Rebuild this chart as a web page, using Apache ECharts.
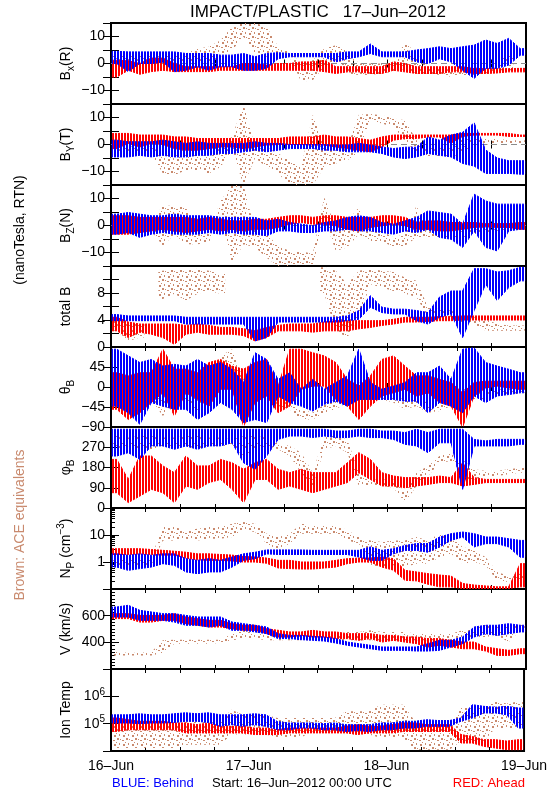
<!DOCTYPE html>
<html><head><meta charset="utf-8">
<script src="https://cdn.jsdelivr.net/npm/echarts@6/dist/echarts.min.js"></script>
<style>html,body{margin:0;padding:0;background:#fff}#c{width:550px;height:800px}</style>
</head><body><div id="c"></div>
<script>
// ---------- time bins (hours since 16-Jun-2012 00:00 UTC, 2-hour bins) ----------
const binHours = [0,2,4,6,8,10,12,14,16,18,20,22,24,26,28,30,32,34,36,38,40,42,44,46,48,50,52,54,56,58,60,62,64,66,68,70];
const dayTickHours = [0,24,48,72];
const dayTickLabels = ['16–Jun','17–Jun','18–Jun','19–Jun'];

// ---------- Bx (R), nT : per-bin low / high ----------
const bxBlueHi = [4.5,4.3,4.3,4.3,4.3,4.3,3.7,3.7,3.7,3.1,3.1,3.7,2.5,3.7,4.0,3.7,3.7,3.7,3.7,3.7,4.3,4.3,7.2,4.3,4.3,4.3,5.0,5.5,6.2,5.5,6.2,6.8,8.7,7.4,9.3,5.5];
const bxBlueLo = [0,-3,0,0,0.5,-3,-2.5,-1.2,-2.5,-1.2,-1.2,-2.5,-2.5,-1.8,1.8,2.5,2.5,2.5,2.5,0.6,1.8,2.5,3.7,2.5,2.5,2.5,0.6,0,1.8,0.6,-2.5,-5.5,-1.8,-1.8,-0.6,3.1];
const bxRedHi = [1.2,1,0,2,2,0,-1.2,-1.2,-1.2,-1.2,-1.2,0,0,-0.6,0,0,0.6,0.6,1.2,-1.2,-1.2,-1.2,-1.2,-1.2,0.6,0,-1.2,-1.2,-1.2,-1.2,-1.2,-1.9,-1.9,-1.9,-1.9,-1.8];
const bxRedLo = [-5,-2.5,-4,-3,-2.5,-3,-3,-3,-3,-2.5,-2.5,-2.5,-2.5,-2.5,-2.5,-2.5,-2.5,-2.5,-3,-3.7,-3.1,-3.1,-3.7,-3.7,-2.5,-3.1,-3.7,-3.7,-3.7,-3.1,-3.1,-3.7,-3.7,-3.5,-3.1,-3.1];
const bxBrownHi = [4,3.7,3.1,3.1,3.1,3.7,3.7,5.5,6.2,8.6,13.6,15,15,13.6,6.2,4.3,0,1.2,5.6,6.8,4.9,0,0,0,0,8,3.7,-1.2,-1.2,-2.5,-2.5,-1.2,-2.5,-1.2,4.9,null];
const bxBrownLo = [0,0.6,0,0.6,0.6,0,0,0,0.6,2.5,4.9,9.9,3.7,2.5,3.1,2.5,-6.8,-6.2,-1.2,1.2,-3.7,-4.3,-4.3,-3.7,-3.1,-1.9,-3.7,-3.7,-4.3,-4.9,-4.3,-4.3,-3.7,-2.5,-2.5,null];

// ---------- By (T) ----------
const byBlueHi = [1.6,1.0,1.0,1.0,1.6,1.0,0.4,1.0,0.4,0.4,0.4,0.4,1.0,0.4,0.4,0,0,0,0,-0.2,-0.2,0.4,-0.2,-0.9,-1.5,-1.0,-1.0,2.8,1.6,3.5,4.5,8,-2,-5,-6,-6];
const byBlueLo = [-4.6,-4.6,-4.0,-4.6,-4.0,-4.6,-4.6,-4.0,-4.0,-3.3,-3.3,-2.7,-2.1,-2.7,-2.1,-1.5,-1.5,-1.5,-2.1,-2.1,-2.7,-2.7,-2.7,-3.3,-4.6,-5.2,-4.6,-3.3,-4.0,-4.6,-7.0,-8,-10.7,-10.7,-10.7,-11];
const byRedHi = [4.1,4.1,3.5,3.5,3.5,2.8,2.8,2.2,2.2,2.2,2.2,2.2,2.2,2.2,2.2,2.8,2.8,2.8,3.5,2.8,2.8,2.2,1.6,2.8,3.5,3.5,3.5,3.5,3.5,3.5,4.1,4.1,4.1,4.1,4.1,3.5];
const byRedLo = [-1.5,0.4,-0.9,0.4,0,-1.5,-2.1,-2.1,-1.5,-0.9,-0.9,-1.5,-0.9,-0.2,0,0,0,-0.2,-0.2,-0.9,-1.5,-2.1,-2.7,-0.9,1.6,2.2,2.2,2.8,2.8,0.5,3.0,3.5,3.5,3.5,3.0,3.0];
const byBrownHi = [-0.9,-0.9,-0.2,-0.9,-3.3,-4.6,-0.9,-3.3,-4.6,0.4,2.8,15,-0.9,-0.9,-3.3,-5.8,-8.3,11,-0.9,-2.1,-1.0,11,11.3,10.8,9.6,9.0,1.6,-0.9,-0.9,-1.5,2.2,2.2,2.2,2.2,1.6,1.6];
const byBrownLo = [-3.3,-3.3,-3.3,-3.3,-10.7,-11.3,-9.5,-9.5,-10.7,-8.3,-2.1,-15,-5,-8.3,-10.7,-15,-15,-15,-8.3,-7,-5.8,-3,9,7.8,6.5,1.6,-3.3,-4.6,-4.6,-4.6,-3.3,-0.2,0,0,0.1,0.1];

// ---------- Bz (N) ----------
const bzBlueHi = [4.2,4.8,4.2,3.6,3.6,4.2,3.6,3.6,3.6,3.0,3.0,3.0,3.0,1.7,2.3,1.1,0.5,-0.1,1.1,1.7,3.0,3.6,3.0,1.1,0.5,1.7,3.0,5.4,4.8,4.2,0.5,11.6,9.1,7.9,7.9,7.9];
const bzBlueLo = [-3.2,-2.6,-4.4,-3.2,-2.6,-3.2,-3.2,-3.2,-2.6,-3.2,-2.6,-3.2,-3.2,-3.8,-2.0,-2.0,-2.6,-2.6,-2.0,-2.0,-1.4,-2.0,-2.0,-2.6,-3.2,-2.0,-2.6,-1.4,-4.4,-5.1,-8.1,-2.0,-8.1,-9.4,-2.0,-1.4];
const bzRedHi = [3.6,3.6,3.0,3.0,3.0,3.0,3.0,2.3,3.0,2.3,1.7,1.7,2.3,2.3,3.0,3.6,3.6,3.0,3.6,3.6,3.0,3.0,3.0,3.6,3.6,3.0,1.1,1.7,1.7,1.1,1.1,1.1,0.7,0.7,0.7,1.1];
const bzRedLo = [-3.2,-3.2,-2.6,-2.0,-1.4,-2.0,-2.6,-2.0,-1.4,-2.0,-1.4,-2.0,-1.4,-1.4,-0.7,0.5,1.1,0.5,0.5,-0.1,-1.4,-2.0,-0.7,-0.1,0.5,-0.1,-1.4,-1.4,-2.0,-2.0,-1.4,-0.7,-0.5,-0.7,-0.7,-1.4];
const bzBrownHi = [1.5,1.5,1.5,1.5,7.3,7.3,6.7,-2.0,-3.2,9.1,15,15,-2.0,-3.2,-7.5,-9.4,-9.4,-10.6,10.4,-0.7,1.7,6.7,-2.0,-2.0,-4.4,-3.2,7.3,-2.0,-2.6,-2.6,-2.0,-0.7,-0.1,0.5,0.5,0.5];
const bzBrownLo = [-2,-2,-2,-2,-7.5,-3.2,-6.9,-6.9,-6.3,3.0,-14,-6.9,-8.1,-11.9,-15,-15,-14.4,-15,3.0,-9.4,-8.1,-3.2,-5.7,-5.7,-8.1,-7.5,-4.4,-4.4,-4.4,-4.4,-4.4,-3.2,-2.6,-2.0,-1.4,-1.4];

// ---------- total B ----------
const tbBlueHi = [4.8,4.6,4.6,4.6,4.6,4.6,4.4,4.4,4.4,4.4,4.4,4.4,4.4,4.4,4.4,4.4,4.4,4.4,4.4,4.4,4.6,5.4,7.6,5.9,5.6,5.6,5.4,5.1,7.4,8.3,8.3,11.6,11.6,11.1,11.3,11.8];
const tbBlueLo = [3.9,3.9,3.9,3.9,3.9,3.9,3.4,3.4,3.4,3.4,3.4,3.4,0.9,1.4,3.7,3.7,3.7,3.7,3.7,3.7,3.9,4.1,5.9,5.1,4.9,4.9,3.9,3.4,4.4,4.9,1.4,5.4,9.3,6.9,8.8,9.8];
const tbRedHi = [4.4,3.7,3.4,3.4,3.4,3.4,3.2,3.4,3.2,2.9,2.9,2.7,2.4,2.9,3.2,3.4,3.4,3.4,3.7,3.9,3.9,3.9,3.9,3.9,4.1,4.4,4.4,4.4,4.5,4.5,4.6,4.6,4.6,4.6,4.6,4.6];
const tbRedLo = [2.4,1.4,2.2,1.9,1.4,0.4,1.9,2.2,1.9,1.9,1.9,1.7,0.9,1.4,2.4,2.4,2.4,2.2,2.4,2.4,2.4,2.7,2.9,3.2,3.4,3.7,3.7,3.8,3.9,3.9,4.0,4.0,4.0,4.0,4.0,4.0];
const tbBrownHi = [4.4,3.4,3.4,null,11.3,11.6,11.3,11.6,11.3,10.8,null,null,null,null,null,null,null,null,11.8,11.3,9.3,11.3,11.6,11.3,11.1,10.3,9.8,5.9,5.6,5.4,4.6,4.4,4.1,3.4,3.2,3.2];
const tbBrownLo = [2.4,0.9,1.4,null,7.1,7.9,6.9,7.9,8.3,7.9,null,null,null,null,null,null,null,null,7.9,2.4,1.4,4.4,9.3,8.8,8.3,7.9,7.4,4.4,4.6,4.4,3.4,3.4,2.4,2.4,2.4,2.4];

// ---------- theta B (deg) ----------
const thBlueHi = [85,70,55,62,47,51,47,62,47,55,40,10,77,62,17,32,-5,17,-5,10,25,85,10,-5,2,10,32,32,47,17,85,88,55,47,40,32];
const thBlueLo = [-43,-58,-84,-35,-43,-50,-50,-73,-58,-35,-50,-80,-73,-80,-20,-35,-43,-54,-39,-32,-43,-28,-28,-28,-28,-32,-32,-58,-35,-43,-58,-20,-35,-20,-17,-13];
const thRedHi = [32,25,32,32,85,40,40,32,55,62,47,40,55,62,2,85,85,77,70,55,17,2,25,62,70,47,25,25,17,10,-13,10,13,13,13,13];
const thRedLo = [-50,-73,-58,-35,-13,-65,-13,-28,-43,-5,-5,-88,-35,-20,-58,-43,-5,2,2,-28,-43,-73,-43,-20,-13,-5,-20,-13,-35,-43,-90,-20,-2,2,-2,-5];
const thBrownHi = [-5,-5,-5,-5,-20,-13,55,10,25,70,85,17,47,47,-20,-35,-50,-58,-35,-28,-20,10,2,-13,-20,-28,-28,-35,-39,-13,2,-5,-13,-5,-5,-2];
const thBrownLo = [-35,-28,-28,-28,-65,-35,-28,-58,-28,10,32,-58,-43,-13,-43,-50,-73,-73,-58,-50,-35,-13,-13,-28,-35,-50,-43,-58,-54,-43,-28,-28,-28,-20,-17,-13];

// ---------- phi B (deg) ----------
const phBlueHi = [350,350,350,350,350,350,350,350,350,350,350,350,350,350,350,350,350,350,350,342,342,350,350,342,342,335,350,335,350,350,350,305,298,305,305,305];
const phBlueLo = [231,246,216,276,276,261,276,261,276,276,290,201,172,231,305,320,320,313,320,313,313,320,313,313,305,283,276,246,290,290,83,276,276,276,276,283];
const phRedHi = [216,127,231,231,187,157,231,187,187,216,201,172,201,216,172,157,172,157,157,157,201,246,216,157,142,135,135,135,142,135,201,135,127,127,127,127];
const phRedLo = [68,24,53,83,68,24,98,83,113,127,83,24,127,127,83,98,83,68,83,98,113,157,127,98,98,90,98,105,113,113,98,105,113,113,113,113];
const phBrownHi = [320,313,320,320,313,313,320,320,313,313,305,320,320,313,290,276,246,157,320,320,305,157,127,127,127,68,157,187,231,246,216,172,164,164,172,179];
const phBrownLo = [261,276,261,261,276,276,276,261,276,276,276,231,261,276,261,231,157,98,261,276,246,98,98,98,90,24,98,142,201,209,127,127,142,142,150,157];

// ---------- Np (cm^-3) ----------
const npBlueHi = [2.0,1.77,2.0,1.77,2.0,2.0,1.33,1.15,1.33,1.15,1.53,2.0,2.3,2.8,2.8,2.8,2.8,2.7,2.7,2.7,2.7,2.7,3.6,2.7,3.1,4.1,4.8,4.8,8.4,11.2,12.9,11.2,8.4,8.4,7.3,6.3];
const npBlueLo = [0.65,0.49,0.57,0.65,0.87,0.75,0.43,0.37,0.43,0.43,0.65,1.15,1.33,2.0,1.9,1.9,1.9,1.9,1.9,1.9,1.9,1.53,1.15,1.15,2.0,2.7,2.7,2.3,3.6,6.3,8.4,3.6,4.8,4.8,3.6,1.5];
const npRedHi = [3.1,3.1,3.1,2.9,2.7,2.5,2.3,2.0,2.0,1.9,1.8,1.6,1.53,1.4,1.15,1.15,1.0,1.0,1.0,1.15,1.33,1.4,1.4,1.53,1.33,0.49,0.43,0.37,0.33,0.3,0.16,0.14,0.13,0.12,0.12,0.87];
const npRedLo = [1.9,1.9,2.0,1.9,1.8,1.8,1.4,1.2,1.15,1.15,1.1,1.0,1.0,0.9,0.6,0.57,0.55,0.55,0.6,0.65,0.87,1.0,1.0,0.65,0.5,0.21,0.2,0.15,0.12,0.12,0.105,0.105,0.105,0.105,0.105,0.12];
const npBrownHi = [1.53,1.53,1.53,1.53,19.8,19.8,15,17,19.8,19.8,26,30,26,11.2,8.4,11.2,26,23,23,23,14.9,8.4,6.3,5.5,6.3,6.3,8.4,6.3,11.2,8.4,3.6,2.7,1.5,0.43,0.3,0.37];
const npBrownLo = [0.75,0.75,0.75,0.75,6.3,6.3,7.3,6.3,7.3,7.3,8.4,14.9,12.9,4.8,2.7,4.8,11.2,11.2,11.2,11.2,6.3,4.8,0.65,0.65,0.75,0.65,0.87,0.87,1.5,2.0,0.87,1.0,0.75,0.2,0.18,0.18];

// ---------- V (km/s) ----------
const vBlueHi = [665,678,640,628,615,615,602,590,590,590,552,540,528,515,465,452,452,445,440,428,402,390,378,365,365,365,365,390,415,415,440,515,528,528,540,528];
const vBlueLo = [590,590,565,565,565,552,528,528,515,528,490,490,478,465,428,428,420,415,410,395,378,365,352,340,340,340,335,335,340,365,390,440,465,452,465,478];
const vRedHi = [615,615,602,602,602,615,590,578,565,565,540,528,528,502,490,478,478,490,478,478,465,465,465,452,452,440,440,428,428,415,402,402,365,352,340,352];
const vRedLo = [578,578,552,552,565,565,540,528,515,515,502,490,490,465,440,440,452,440,440,428,428,415,428,402,415,402,390,365,378,365,352,352,335,302,302,315];
const vBrownHi = [328,322,322,328,415,420,420,420,420,420,465,490,478,465,465,465,465,465,465,465,478,478,490,478,478,478,465,465,465,465,490,502,528,515,515,540];
const vBrownLo = [302,302,302,302,320,390,390,390,390,395,415,428,428,415,415,415,415,415,415,415,415,415,415,415,415,415,415,415,415,415,428,440,440,452,402,490];

// ---------- Ion temperature (K) ----------
const tBlueHi = [2.1e5,2.1e5,2.3e5,2.1e5,2.1e5,2.3e5,2.5e5,2.3e5,2.5e5,2.1e5,2.1e5,2.1e5,2.3e5,2.1e5,1.2e5,1.06e5,1.06e5,1.06e5,1.0e5,1.06e5,9.2e4,9.2e4,9.2e4,1.06e5,1.06e5,1.22e5,1.22e5,1.4e5,1.3e5,1.3e5,1.61e5,4.96e5,4.3e5,4.0e5,4.3e5,3.74e5];
const tBlueLo = [1.06e5,1.06e5,1.0e5,1.06e5,1.06e5,1.1e5,1.22e5,1.22e5,1.1e5,8.0e4,9.2e4,8.0e4,9.2e4,8.0e4,6.0e4,6.0e4,6.9e4,6.9e4,6.0e4,6.0e4,5.2e4,5.6e4,5.2e4,6.0e4,6.0e4,6.9e4,6.9e4,8.0e4,8.0e4,8.0e4,1.22e5,1.61e5,2.46e5,2.46e5,2.1e5,6.9e4];
const tRedHi = [1.61e5,1.4e5,1.22e5,1.22e5,1.22e5,1.06e5,1.06e5,9.2e4,1.06e5,8.0e4,8.0e4,8.0e4,6.9e4,6.9e4,6.0e4,6.9e4,6.9e4,6.9e4,6.9e4,6.9e4,8.0e4,9.2e4,8.0e4,8.0e4,9.2e4,1.06e5,1.06e5,9.2e4,9.2e4,9.2e4,4.0e4,3.4e4,2.6e4,2.6e4,2.3e4,2.6e4];
const tRedLo = [5.2e4,6.0e4,6.0e4,6.0e4,6.0e4,6.0e4,4.6e4,4.6e4,4.6e4,4.6e4,4.6e4,4.6e4,4.0e4,4.0e4,4.0e4,4.6e4,4.6e4,4.6e4,4.6e4,4.6e4,4.6e4,4.0e4,4.6e4,4.6e4,4.6e4,5.2e4,5.2e4,5.2e4,5.2e4,5.2e4,1.96e4,1.96e4,1.48e4,1.29e4,1.12e4,1.12e4];
const tBrownHi = [9.2e4,9.2e4,9.2e4,9.2e4,9.2e4,9.2e4,1.22e5,1.22e5,1.22e5,1.22e5,3.25e5,2.13e5,2.13e5,2.13e5,1.61e5,1.61e5,1.61e5,1.61e5,1.61e5,1.61e5,2.83e5,2.83e5,2.83e5,4.96e5,4.96e5,4.96e5,1.2e5,9.2e4,9.2e4,9.2e4,3.74e5,3.74e5,3.74e5,6.5e5,5.5e5,6.5e5];
const tBrownLo = [1.29e4,1.29e4,1.29e4,1.29e4,1.29e4,1.29e4,1.7e4,1.7e4,1.7e4,1.7e4,4.0e4,4.0e4,4.0e4,4.0e4,3.0e4,3.0e4,3.0e4,5.2e4,5.2e4,5.2e4,4.0e4,4.0e4,4.0e4,3.0e4,3.0e4,3.0e4,1.12e4,1.12e4,1.12e4,1.12e4,2.26e4,2.26e4,2.26e4,6.9e4,6.9e4,6.9e4];

// ---------- tick labels per panel ----------
const bTickLabels = [-10, 0, 10];
const totalBTickLabels = [0, 4, 8];
const thetaTickLabels = [-90, -45, 0, 45];
const phiTickLabels = [0, 90, 180, 270];
const npTickLabels = [1, 10];
const npMinorTicks = [0.2,0.3,0.4,0.5,0.6,0.7,0.8,0.9,2,3,4,5,6,7,8,9,20,30,40,50,60,70,80,90];
const vTickLabels = [400, 600];
const tempTickLabels = [1e5, 1e6];
const zeroLineData = [[0, 0], [72, 0]];

// ---------- rendering ----------
const FONT = 'Liberation Sans';
const BLUE = '#0000ff', RED = '#ff0000', BROWN = '#c98a6e';
const PANEL_TOPS = [23, 104, 185, 266, 347, 427, 508, 589, 669];
const PANEL_BOTTOM = 751;
const LEFT = 111, WIDTH = 415;

// fill textures: vertical streaks for the STEREO traces, sparse dots for ACE
function makePattern(w, h, color, rects) {
  const c = document.createElement('canvas'); c.width = w; c.height = h;
  const g = c.getContext('2d'); g.fillStyle = color;
  rects.forEach(r => g.fillRect(r[0], r[1], r[2], r[3]));
  return {image: c, repeat: 'repeat'};
}
const BLUE_FILL = makePattern(3, 1, BLUE, [[0,0,2,1]]);
const RED_FILL = makePattern(3, 1, RED, [[1,0,2,1]]);
const BROWN_FILL = makePattern(9, 9, BROWN, [[0,0,2,2],[5,2,2,1],[2,5,1,2],[6,6,2,2],[3,1,1,1],[8,4,1,1]]);

const fmtNum = v => (v < 0 ? '−' + Math.abs(v) : String(v));
const fmtPow = v => '{b|10}{s|' + Math.round(Math.log10(v)) + '}';

const panels = [
  {name:'B{s|x}(R)', type:'value', min:-15, max:15, interval:5, labels:bTickLabels, fmt:fmtNum, zero:true,
   blue:[bxBlueLo,bxBlueHi], red:[bxRedLo,bxRedHi], brown:[bxBrownLo,bxBrownHi]},
  {name:'B{s|Y}(T)', type:'value', min:-15, max:15, interval:5, labels:bTickLabels, fmt:fmtNum, zero:true,
   blue:[byBlueLo,byBlueHi], red:[byRedLo,byRedHi], brown:[byBrownLo,byBrownHi]},
  {name:'B{s|Z}(N)', type:'value', min:-15, max:15, interval:5, labels:bTickLabels, fmt:fmtNum, zero:true,
   blue:[bzBlueLo,bzBlueHi], red:[bzRedLo,bzRedHi], brown:[bzBrownLo,bzBrownHi]},
  {name:'total B', type:'value', min:0, max:12, interval:2, labels:totalBTickLabels, fmt:fmtNum,
   blue:[tbBlueLo,tbBlueHi], red:[tbRedLo,tbRedHi], brown:[tbBrownLo,tbBrownHi]},
  {name:'θ{s|B}', type:'value', min:-90, max:90, interval:45, labels:thetaTickLabels, fmt:fmtNum,
   blue:[thBlueLo,thBlueHi], red:[thRedLo,thRedHi], brown:[thBrownLo,thBrownHi]},
  {name:'φ{s|B}', type:'value', min:0, max:360, interval:90, labels:phiTickLabels, fmt:fmtNum,
   blue:[phBlueLo,phBlueHi], red:[phRedLo,phRedHi], brown:[phBrownLo,phBrownHi]},
  {name:'N{s|P} (cm{p|−3})', type:'log', min:0.1, max:100, labels:npTickLabels, fmt:fmtNum, minor:npMinorTicks,
   blue:[npBlueLo,npBlueHi], red:[npRedLo,npRedHi], brown:[npBrownLo,npBrownHi]},
  {name:'V (km/s)', type:'value', min:200, max:800, interval:200, labels:vTickLabels, fmt:fmtNum, minorSplit:8,
   blue:[vBlueLo,vBlueHi], red:[vRedLo,vRedHi], brown:[vBrownLo,vBrownHi]},
  {name:'Ion Temp', type:'log', min:1e4, max:1e7, labels:tempTickLabels, fmt:fmtPow,
   blue:[tBlueLo,tBlueHi], red:[tRedLo,tRedHi], brown:[tBrownLo,tBrownHi]}
];

// Each series is drawn as the band between its per-bin low and high values,
// the band edges running through the bin centres; positions come from api.coord.
function bandRender(pair, fill, stroke) {
  const lo = pair[0], hi = pair[1];
  return function (params, api) {
    const children = [];
    let top = [], bot = [], last = -1;
    const flush = () => {
      if (top.length) {
        top.push(api.coord([binHours[last] + 1.8, hi[last]]));
        bot.push(api.coord([binHours[last] + 1.8, lo[last]]));
        children.push({type:'polygon', shape:{points: top.concat(bot.reverse())},
          style:{fill:fill, stroke:stroke || null, lineWidth: stroke ? 1 : 0}});
      }
      top = []; bot = [];
    };
    for (let k = 0; k < binHours.length; k++) {
      if (lo[k] == null || hi[k] == null) { flush(); continue; }
      if (!top.length) {
        top.push(api.coord([binHours[k] + 0.2, hi[k]]));
        bot.push(api.coord([binHours[k] + 0.2, lo[k]]));
      }
      top.push(api.coord([binHours[k] + 1, hi[k]]));
      bot.push(api.coord([binHours[k] + 1, lo[k]]));
      last = k;
    }
    flush();
    return {type:'group', children:children};
  };
}

const grid = [], xAxis = [], yAxis = [], series = [], graphic = [];
const richTick = { b:{fontSize:14, fontFamily:FONT, color:'#000', lineHeight:18}, s:{fontSize:10, fontFamily:FONT, color:'#000', verticalAlign:'top'} };

panels.forEach((p, i) => {
  const top = PANEL_TOPS[i];
  const bottom = i < 8 ? PANEL_TOPS[i+1] : PANEL_BOTTOM;
  grid.push({left:LEFT, top:top, width:WIDTH, height:bottom-top, show:true,
    borderColor:'#000', borderWidth:2, backgroundColor:'transparent', containLabel:false});

  const xi = xAxis.length;
  ['bottom','top'].forEach(pos => {
    xAxis.push({gridIndex:i, type:'value', position:pos, min:0, max:72, interval:6,
      axisLine:{show:false}, splitLine:{show:false},
      axisTick:{show:true, inside:true, length:4, lineStyle:{color:'#000', width:1}},
      axisLabel:{show: i === 8 && pos === 'bottom', margin:8, fontFamily:FONT, fontSize:14, color:'#000',
        showMinLabel:true, showMaxLabel:true,
        formatter: v => { const j = dayTickHours.indexOf(Math.round(v)); return (j >= 0 && Math.abs(v - dayTickHours[j]) < 1e-6) ? dayTickLabels[j] : ''; }}
    });
  });

  const yi = yAxis.length;
  const match = v => p.labels.find(l => Math.abs(l - v) <= 1e-6 * Math.max(1, Math.abs(l)));
  ['left','right'].forEach(pos => {
    const ax = {gridIndex:i, type:p.type, position:pos, min:p.min, max:p.max,
      axisLine:{show:false}, splitLine:{show:false},
      axisTick:{show:true, inside:true, length:8, lineStyle:{color:'#000', width:1}},
      axisLabel:{show: pos === 'left', margin:6, fontFamily:FONT, fontSize:14, color:'#000',
        showMinLabel:true, showMaxLabel:true, rich:richTick,
        formatter: v => { const m = match(v); return m === undefined ? '' : p.fmt(m); }}
    };
    if (p.type === 'log') ax.logBase = 10; else ax.interval = p.interval;
    if (p.minorSplit && pos === 'left') ax.minorTick = {show:true, splitNumber:p.minorSplit, length:4, lineStyle:{color:'#000', width:1}};
    yAxis.push(ax);
  });
  if (p.minor) {
    yAxis.push({gridIndex:i, type:'log', logBase:10, position:'left', min:p.min, max:p.max,
      axisLine:{show:false}, splitLine:{show:false}, axisLabel:{show:false},
      axisTick:{show:true, inside:true, length:4, customValues:p.minor, lineStyle:{color:'#000', width:1}}});
  }

  const band = (pair, fill, stroke, z) => ({type:'custom', coordinateSystem:'cartesian2d',
    xAxisIndex:xi, yAxisIndex:yi, data:[[0, 0]], renderItem:bandRender(pair, fill, stroke),
    clip:true, silent:true, animation:false, z:z});

  series.push(band(p.brown, BROWN_FILL, null, 1));
  if (p.zero) series.push({type:'line', xAxisIndex:xi, yAxisIndex:yi, data:zeroLineData, symbol:'none',
    silent:true, animation:false, z:1, lineStyle:{color:'#8c8c8c', width:1, type:[6,4]}});
  series.push(band(p.red, RED_FILL, RED_FILL, 2));
  series.push(band(p.blue, BLUE_FILL, BLUE_FILL, 3));

  graphic.push({type:'text', x:66, y:(top + bottom) / 2, rotation:Math.PI / 2,
    style:{text:p.name, fontFamily:FONT, fontSize:14, fill:'#000', align:'center', verticalAlign:'middle', lineHeight:20,
      rich:{s:{fontSize:10, fontFamily:FONT, fill:'#000', verticalAlign:'bottom'},
            p:{fontSize:10, fontFamily:FONT, fill:'#000', verticalAlign:'top'}}}});
});

graphic.push({type:'text', x:318, y:12, style:{text:'IMPACT/PLASTIC   17–Jun–2012', fontFamily:FONT, fontSize:17, fill:'#000', align:'center', verticalAlign:'middle'}});
graphic.push({type:'text', x:20, y:230, rotation:Math.PI/2, style:{text:'(nanoTesla, RTN)', fontFamily:FONT, fontSize:14, fill:'#000', align:'center', verticalAlign:'middle'}});
graphic.push({type:'text', x:20, y:525, rotation:Math.PI/2, style:{text:'Brown: ACE equivalents', fontFamily:FONT, fontSize:14, fill:BROWN, align:'center', verticalAlign:'middle'}});
graphic.push({type:'text', x:112, y:783, style:{text:'BLUE: Behind', fontFamily:FONT, fontSize:13, fill:BLUE, align:'left', verticalAlign:'middle'}});
graphic.push({type:'text', x:212, y:783, style:{text:'Start: 16–Jun–2012 00:00 UTC', fontFamily:FONT, fontSize:13, fill:'#000', align:'left', verticalAlign:'middle'}});
graphic.push({type:'text', x:525, y:783, style:{text:'RED: Ahead', fontFamily:FONT, fontSize:13, fill:RED, align:'right', verticalAlign:'middle'}});

const chart = echarts.init(document.getElementById('c'), null, {renderer:'canvas', width:550, height:800});
chart.setOption({animation:false, backgroundColor:'#fff', grid, xAxis, yAxis, series, graphic});
</script></body></html>
